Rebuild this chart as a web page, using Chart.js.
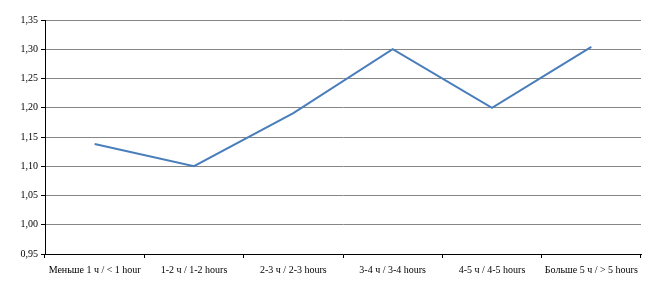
<!DOCTYPE html>
<html>
<head>
<meta charset="utf-8">
<script src="https://cdn.jsdelivr.net/npm/chart.js@4.4.1"></script>
<style>
  html, body { margin: 0; padding: 0; background: #fff; }
  #wrap { width: 664px; height: 283px; position: relative; }
</style>
</head>
<body>
<div id="wrap"><canvas id="chart"></canvas></div>
<script>
  // categories (time spent) and mean values
  var categories = [
    'Меньше 1 ч / < 1 hour',
    '1-2 ч / 1-2 hours',
    '2-3 ч / 2-3 hours',
    '3-4 ч / 3-4 hours',
    '4-5 ч / 4-5 hours',
    'Больше 5 ч / > 5 hours'
  ];
  var values = [1.138, 1.100, 1.191, 1.300, 1.200, 1.304];

  var yMin = 0.95;
  var yMax = 1.35;
  var yStep = 0.05;

  Chart.defaults.font.family = "'Liberation Serif', 'DejaVu Serif', serif";
  Chart.defaults.font.size = 10;
  Chart.defaults.color = '#000';

  new Chart(document.getElementById('chart').getContext('2d'), {
    type: 'line',
    data: {
      labels: categories,
      datasets: [{
        data: values,
        borderColor: '#4a7ebb',
        borderWidth: 2,
        pointRadius: 0,
        tension: 0,
        fill: false
      }]
    },
    options: {
      responsive: true,
      maintainAspectRatio: false,
      animation: false,
      layout: { padding: { top: 20, right: 23, left: 0, bottom: 0 } },
      plugins: {
        legend: { display: false },
        tooltip: { enabled: false }
      },
      scales: {
        x: {
          offset: true,
          grid: {
            offset: true,
            drawOnChartArea: false,
            tickLength: 4,
            tickColor: '#000'
          },
          border: { color: '#000', width: 1 },
          ticks: { maxRotation: 0, autoSkip: false, padding: 6, font: { size: 10 } },
          afterFit: function (scale) { scale.height = 29; }
        },
        y: {
          min: yMin,
          max: yMax,
          grid: {
            color: '#868686',
            tickColor: '#000',
            tickLength: 4
          },
          border: { color: '#000', width: 1 },
          ticks: {
            stepSize: yStep,
            padding: 3,
            font: { size: 10 },
            callback: function (v) { return v.toFixed(2).replace('.', ','); }
          },
          afterFit: function (scale) { scale.width = 45; }
        }
      }
    }
  });
</script>
</body>
</html>
